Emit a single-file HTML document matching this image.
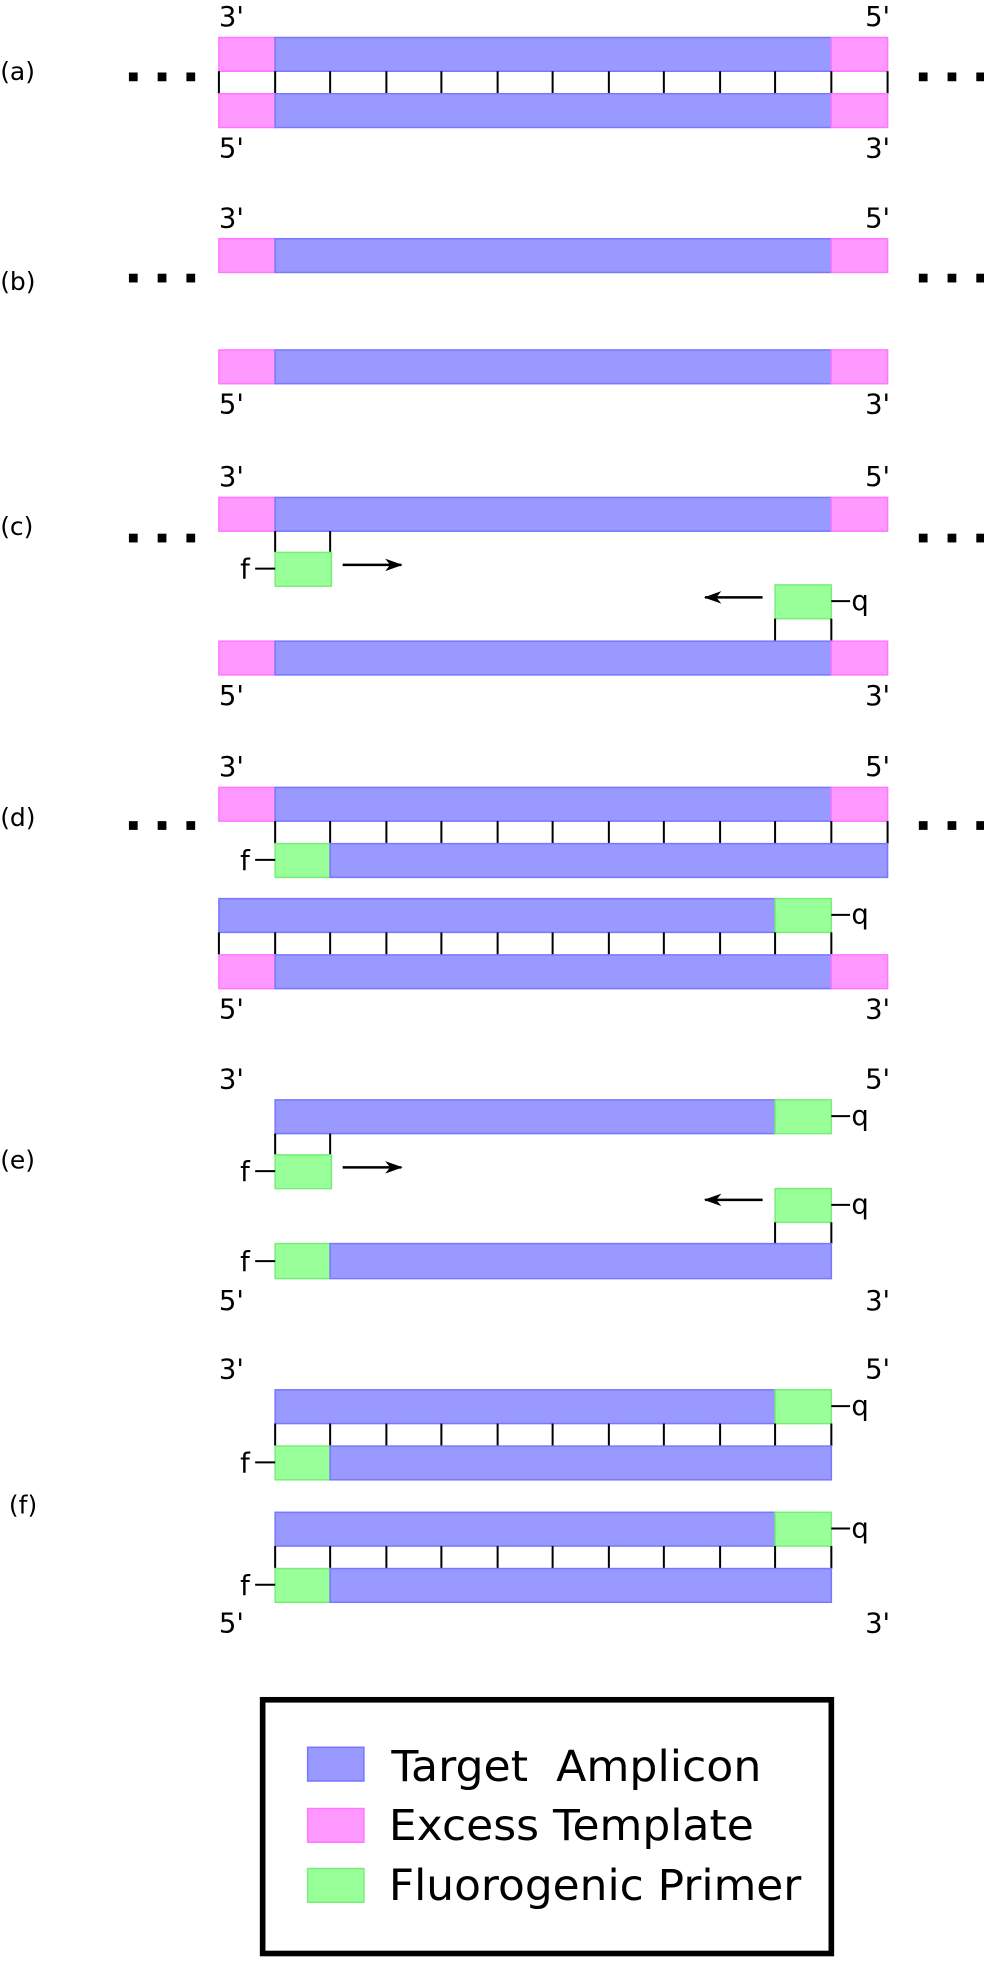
<!DOCTYPE html>
<html><head><meta charset="utf-8"><style>
html,body{margin:0;padding:0;background:#fff;}
svg{display:block;}
text{font-family:"DejaVu Sans","Liberation Sans",sans-serif;fill:#000;}
.b{fill:#9999ff;stroke:#7777ff;stroke-width:1.2}
.p{fill:#ff99ff;stroke:#ff77ff;stroke-width:1.2}
.g{fill:#99ff99;stroke:#77ee77;stroke-width:1.2}
.t{stroke:#000;stroke-width:1.6}
.l{font-size:22px}
.s{font-size:20px}
</style></head><body>
<svg width="984" height="1961" viewBox="0 0 787 1569" xmlns="http://www.w3.org/2000/svg">
<defs>
<marker id="ah" viewBox="0 0 14 12" refX="13" refY="6" markerWidth="14" markerHeight="12" orient="auto" markerUnits="userSpaceOnUse">
<path d="M0,1 L14,6 L0,11 L4,6 z" fill="#000"/></marker>
<g id="dots"><rect x="0" y="0" width="7" height="7" fill="#000"/><rect x="23" y="0" width="7" height="7" fill="#000"/><rect x="46" y="0" width="7" height="7" fill="#000"/></g>
<g id="fullticks" class="t"><line x1="175" y1="0" x2="175" y2="18"/><line x1="220" y1="0" x2="220" y2="18"/><line x1="264" y1="0" x2="264" y2="18"/><line x1="309" y1="0" x2="309" y2="18"/><line x1="353" y1="0" x2="353" y2="18"/><line x1="398" y1="0" x2="398" y2="18"/><line x1="442" y1="0" x2="442" y2="18"/><line x1="487" y1="0" x2="487" y2="18"/><line x1="531" y1="0" x2="531" y2="18"/><line x1="576" y1="0" x2="576" y2="18"/><line x1="620" y1="0" x2="620" y2="18"/><line x1="665" y1="0" x2="665" y2="18"/><line x1="710" y1="0" x2="710" y2="18"/></g>
<g id="midticks" class="t"><line x1="220" y1="0" x2="220" y2="18"/><line x1="264" y1="0" x2="264" y2="18"/><line x1="309" y1="0" x2="309" y2="18"/><line x1="353" y1="0" x2="353" y2="18"/><line x1="398" y1="0" x2="398" y2="18"/><line x1="442" y1="0" x2="442" y2="18"/><line x1="487" y1="0" x2="487" y2="18"/><line x1="531" y1="0" x2="531" y2="18"/><line x1="576" y1="0" x2="576" y2="18"/><line x1="620" y1="0" x2="620" y2="18"/><line x1="665" y1="0" x2="665" y2="18"/></g>
<g id="pbp"><rect class="p" x="175" y="0" width="45" height="27"/><rect class="b" x="220" y="0" width="445" height="27"/><rect class="p" x="665" y="0" width="45" height="27"/></g>
</defs>

<!-- (a) -->
<text class="s" x="0" y="64">(a)</text>
<use href="#dots" x="103" y="58"/><use href="#dots" x="735" y="58"/>
<text class="l" x="175" y="21">3'</text><text class="l" x="692" y="21">5'</text>
<use href="#pbp" y="30"/>
<use href="#fullticks" y="57"/>
<use href="#pbp" y="75"/>
<text class="l" x="175" y="126">5'</text><text class="l" x="692" y="126">3'</text>

<!-- (b) -->
<text class="s" x="0" y="232">(b)</text>
<use href="#dots" x="103" y="219"/><use href="#dots" x="735" y="219"/>
<text class="l" x="175" y="182">3'</text><text class="l" x="692" y="182">5'</text>
<use href="#pbp" y="191"/>
<use href="#pbp" y="280"/>
<text class="l" x="175" y="331">5'</text><text class="l" x="692" y="331">3'</text>

<!-- (c) -->
<text class="s" x="0" y="428">(c)</text>
<use href="#dots" x="103" y="427"/><use href="#dots" x="735" y="427"/>
<text class="l" x="175" y="389">3'</text><text class="l" x="692" y="389">5'</text>
<use href="#pbp" y="398"/>
<line class="t" x1="220" y1="425" x2="220" y2="442"/><line class="t" x1="264" y1="425" x2="264" y2="442"/>
<rect class="g" x="220" y="442" width="45" height="27"/>
<line class="t" x1="204" y1="455" x2="220" y2="455"/><text class="l" x="192" y="463">f</text>
<line x1="274" y1="452" x2="321" y2="452" stroke="#000" stroke-width="2" marker-end="url(#ah)"/>
<rect class="g" x="620" y="468" width="45" height="27"/>
<line class="t" x1="665" y1="481" x2="680" y2="481"/><text class="l" x="681" y="488">q</text>
<line x1="610" y1="478" x2="564" y2="478" stroke="#000" stroke-width="2" marker-end="url(#ah)"/>
<line class="t" x1="620" y1="495" x2="620" y2="513"/><line class="t" x1="665" y1="495" x2="665" y2="513"/>
<use href="#pbp" y="513"/>
<text class="l" x="175" y="564">5'</text><text class="l" x="692" y="564">3'</text>

<!-- (d) -->
<text class="s" x="0" y="661">(d)</text>
<use href="#dots" x="103" y="657"/><use href="#dots" x="735" y="657"/>
<text class="l" x="175" y="621">3'</text><text class="l" x="692" y="621">5'</text>
<use href="#pbp" y="630"/>
<use href="#midticks" y="657"/>
<line class="t" x1="710" y1="657" x2="710" y2="675"/>
<rect class="g" x="220" y="675" width="44" height="27"/><rect class="b" x="264" y="675" width="446" height="27"/>
<line class="t" x1="204" y1="688" x2="220" y2="688"/><text class="l" x="192" y="696">f</text>
<rect class="b" x="175" y="719" width="445" height="27"/><rect class="g" x="620" y="719" width="45" height="27"/>
<line class="t" x1="665" y1="732" x2="680" y2="732"/><text class="l" x="681" y="739">q</text>
<use href="#midticks" y="746"/>
<line class="t" x1="175" y1="746" x2="175" y2="764"/>
<use href="#pbp" y="764"/>
<text class="l" x="175" y="815">5'</text><text class="l" x="692" y="815">3'</text>

<!-- (e) -->
<text class="s" x="0" y="935">(e)</text>
<text class="l" x="175" y="871">3'</text><text class="l" x="692" y="871">5'</text>
<rect class="b" x="220" y="880" width="400" height="27"/><rect class="g" x="620" y="880" width="45" height="27"/>
<line class="t" x1="665" y1="893" x2="680" y2="893"/><text class="l" x="681" y="900">q</text>
<line class="t" x1="220" y1="907" x2="220" y2="924"/><line class="t" x1="264" y1="907" x2="264" y2="924"/>
<rect class="g" x="220" y="924" width="45" height="27"/>
<line class="t" x1="204" y1="937" x2="220" y2="937"/><text class="l" x="192" y="945">f</text>
<line x1="274" y1="934" x2="321" y2="934" stroke="#000" stroke-width="2" marker-end="url(#ah)"/>
<rect class="g" x="620" y="951" width="45" height="27"/>
<line class="t" x1="665" y1="964" x2="680" y2="964"/><text class="l" x="681" y="971">q</text>
<line x1="610" y1="960" x2="564" y2="960" stroke="#000" stroke-width="2" marker-end="url(#ah)"/>
<line class="t" x1="620" y1="978" x2="620" y2="995"/><line class="t" x1="665" y1="978" x2="665" y2="995"/>
<rect class="g" x="220" y="995" width="44" height="28"/><rect class="b" x="264" y="995" width="401" height="28"/>
<line class="t" x1="204" y1="1009" x2="220" y2="1009"/><text class="l" x="192" y="1017">f</text>
<text class="l" x="175" y="1048">5'</text><text class="l" x="692" y="1048">3'</text>

<!-- (f) -->
<text class="s" x="7" y="1211">(f)</text>
<text class="l" x="175" y="1103">3'</text><text class="l" x="692" y="1103">5'</text>
<rect class="b" x="220" y="1112" width="400" height="27"/><rect class="g" x="620" y="1112" width="45" height="27"/>
<line class="t" x1="665" y1="1125" x2="680" y2="1125"/><text class="l" x="681" y="1132">q</text>
<use href="#midticks" y="1139"/>
<rect class="g" x="220" y="1157" width="44" height="27"/><rect class="b" x="264" y="1157" width="401" height="27"/>
<line class="t" x1="204" y1="1170" x2="220" y2="1170"/><text class="l" x="192" y="1178">f</text>
<rect class="b" x="220" y="1210" width="400" height="27"/><rect class="g" x="620" y="1210" width="45" height="27"/>
<line class="t" x1="665" y1="1223" x2="680" y2="1223"/><text class="l" x="681" y="1230">q</text>
<use href="#midticks" y="1237"/>
<rect class="g" x="220" y="1255" width="44" height="27"/><rect class="b" x="264" y="1255" width="401" height="27"/>
<line class="t" x1="204" y1="1268" x2="220" y2="1268"/><text class="l" x="192" y="1276">f</text>
<text class="l" x="175" y="1306">5'</text><text class="l" x="692" y="1306">3'</text>

<!-- legend -->
<rect x="210" y="1360" width="455" height="203" fill="#fff" stroke="#000" stroke-width="4.5"/>
<rect class="b" x="246" y="1398" width="45" height="27"/>
<rect class="p" x="246" y="1447" width="45" height="27"/>
<rect class="g" x="246" y="1495" width="45" height="27"/>
<text x="313" y="1425" font-size="34" textLength="296" lengthAdjust="spacingAndGlyphs">Target&#160; Amplicon</text>
<text x="311" y="1472" font-size="34" textLength="292" lengthAdjust="spacingAndGlyphs">Excess Template</text>
<text x="311" y="1520" font-size="34" textLength="330" lengthAdjust="spacingAndGlyphs">Fluorogenic Primer</text>
</svg>
</body></html>
